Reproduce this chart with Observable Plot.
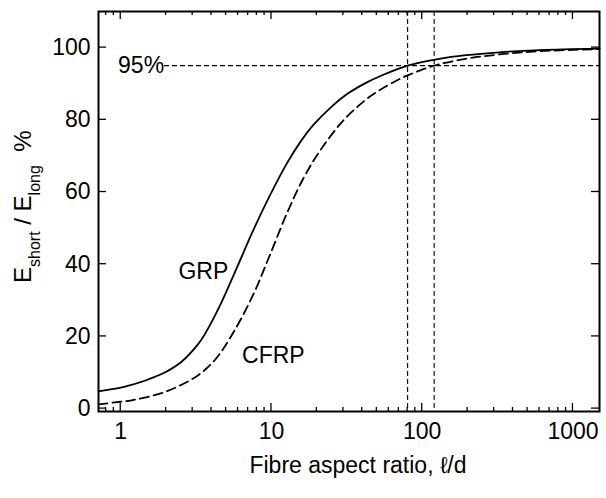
<!DOCTYPE html>
<html><head><meta charset="utf-8">
<script src="https://cdn.jsdelivr.net/npm/d3@7"></script>
<script src="https://cdn.jsdelivr.net/npm/@observablehq/plot@0.6"></script>
<style>body{margin:0;background:#fff}</style>
</head><body><div id="chart"></div>
<script>
// Data
const grpX = [0.712, 1.0, 1.18, 1.5, 1.96, 2.52, 3.25, 3.6, 4.55, 5.86, 7.55, 9.75, 12.6, 15.8, 18.9, 25.6, 31.4, 42.6, 52, 80, 130, 195, 325, 600, 1500];
const grpY = [4.8, 5.8, 6.6, 8.0, 10.0, 12.9, 17.8, 20.5, 28.5, 38.8, 49.3, 59.0, 67.8, 74.3, 78.5, 84.0, 87.0, 90.3, 92.0, 95.0, 96.9, 97.9, 98.7, 99.3, 99.7];
const cfrpX = [0.712, 1.0, 1.18, 1.5, 1.96, 2.5, 3.25, 4.2, 5.57, 7.55, 9.75, 12.6, 16.2, 20.9, 29.8, 42.6, 52, 70.8, 80, 120, 195, 325, 600, 1500];
const cfrpY = [1.2, 1.9, 2.3, 3.2, 4.6, 6.5, 9.2, 13.4, 21.0, 31.5, 42.5, 53.9, 63.6, 71.3, 79.7, 85.7, 88.2, 91.3, 92.3, 95.0, 96.9, 98.1, 99.0, 99.6];
const xTicks = [1, 10, 100, 1000];
const xMinorTicks = [0.8, 0.9, 2, 3, 4, 5, 6, 7, 8, 9, 20, 30, 40, 50, 60, 70, 80, 90, 200, 300, 400, 500, 600, 700, 800, 900];
const yTicks = [0, 20, 40, 60, 80, 100];
const refXs = [80, 120];
const refLevel = 95;
const seriesLabels = [
  {text: "GRP", x: 3.53, y: 38},
  {text: "CFRP", x: 10.3, y: 14.7}
];
const xTitle = "Fibre aspect ratio, \u2113/d";

const grp = grpX.map((x, i) => ({x, y: grpY[i]}));
const cfrp = cfrpX.map((x, i) => ({x, y: cfrpY[i]}));
const xDomain = [0.712, 1500];

const W = 606, H = 498, ML = 98, MR = 7, MT = 11, MB = 87;
const MAJOR = 8, MINOR = 4;

const plot = Plot.plot({
  width: W, height: H,
  marginLeft: ML, marginRight: MR, marginTop: MT, marginBottom: MB,
  style: {fontSize: "23px", fontFamily: "'Liberation Sans', Arial, sans-serif", background: "white", color: "black", overflow: "visible"},
  x: {type: "log", domain: xDomain},
  y: {domain: [-0.8, 110]},
  marks: [
    Plot.ruleX(refXs, {stroke: "black", strokeWidth: 1.1, strokeDasharray: "5,3"}),
    Plot.ruleY([{y: refLevel, x1: 1.95, x2: xDomain[1]}], {y: "y", x1: "x1", x2: "x2", stroke: "black", strokeWidth: 1.1, strokeDasharray: "5,3"}),
    Plot.line(grp, {x: "x", y: "y", curve: "catmull-rom", stroke: "black", strokeWidth: 1.8}),
    Plot.line(cfrp, {x: "x", y: "y", curve: "catmull-rom", stroke: "black", strokeWidth: 1.8, strokeDasharray: "9,5"}),
    Plot.text(seriesLabels, {x: "x", y: "y", text: "text", fontSize: 23, fill: "black"}),
    Plot.text([{x: 1.94, y: refLevel, text: "95%"}], {x: "x", y: "y", text: "text", textAnchor: "end", fontSize: 23, fill: "black"}),
    Plot.frame({stroke: "black", strokeWidth: 2}),
    Plot.axisX(xTicks, {anchor: "bottom", tickSize: 0, tickPadding: 11, tickFormat: d => String(d), label: null, fontSize: 23}),
    Plot.axisY(yTicks, {anchor: "left", tickSize: 0, tickPadding: 8, tickFormat: d => String(d), label: null, fontSize: 23})
  ]
});

const svg = d3.select(plot);

// inward ticks on all four sides, positioned with Plot's own scales
const sx = plot.scale("x"), sy = plot.scale("y");
const tg = svg.append("g").attr("stroke", "black").attr("stroke-width", 1.3).attr("fill", "none");
const frameBottom = H - MB, frameTop = MT, frameLeft = ML, frameRight = W - MR;
function xTick(v, len) {
  const px = sx.apply(v);
  tg.append("line").attr("x1", px).attr("x2", px).attr("y1", frameBottom).attr("y2", frameBottom - len);
  tg.append("line").attr("x1", px).attr("x2", px).attr("y1", frameTop).attr("y2", frameTop + len);
}
xTicks.forEach(v => xTick(v, MAJOR));
xMinorTicks.forEach(v => xTick(v, MINOR));
yTicks.forEach(v => {
  const py = sy.apply(v);
  tg.append("line").attr("x1", frameLeft).attr("x2", frameLeft + MAJOR).attr("y1", py).attr("y2", py);
  tg.append("line").attr("x1", frameRight).attr("x2", frameRight - MAJOR).attr("y1", py).attr("y2", py);
});

svg.append("text")
  .attr("x", 358).attr("y", 472.5)
  .attr("text-anchor", "middle")
  .attr("font-size", 23)
  .attr("fill", "black")
  .text(xTitle);

const yt = svg.append("text")
  .attr("transform", "translate(31,283) rotate(-90)")
  .attr("text-anchor", "start")
  .attr("font-size", 24)
  .attr("fill", "black")
  .attr("xml:space", "preserve");
yt.append("tspan").text("E");
yt.append("tspan").attr("font-size", 16).attr("dy", 9).text("short");
yt.append("tspan").attr("dy", -9).text(" / E");
yt.append("tspan").attr("font-size", 16).attr("dy", 9).text("long");
yt.append("tspan").attr("dy", -9).text("  %");

document.getElementById("chart").appendChild(plot);
</script>
</body></html>
